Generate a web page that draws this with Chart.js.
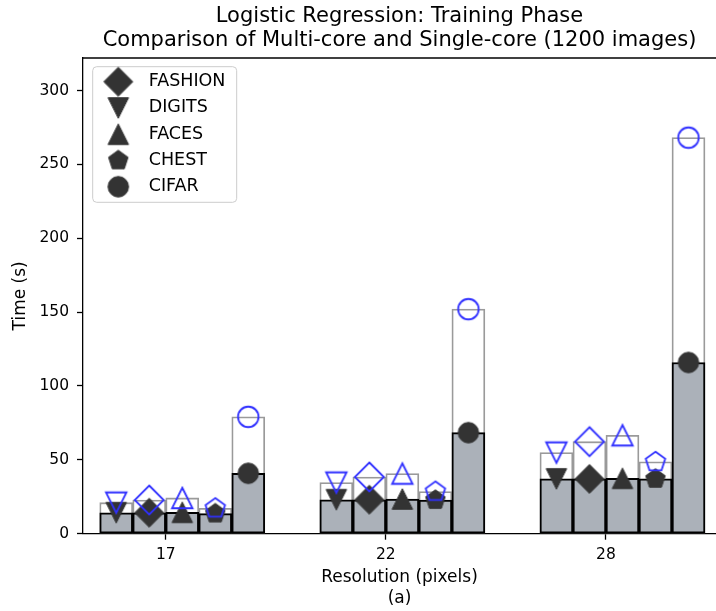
<!DOCTYPE html>
<html>
<head>
<meta charset="utf-8">
<title>Logistic Regression: Training Phase</title>
<script src="https://cdn.jsdelivr.net/npm/chart.js@4.4.1/dist/chart.umd.min.js"></script>
<style>
    html, body { margin: 0; padding: 0; background: #fff; }
    #timeChart { display: block; }
</style>
</head>
<body>
<canvas id="timeChart" width="716" height="611"></canvas>
<script>
// x groups and y ticks
const resolutions = [17, 22, 28];
const yTicks = [0, 50, 100, 150, 200, 250, 300];

// datasets, in legend order
const datasetNames = ['FASHION', 'DIGITS', 'FACES', 'CHEST', 'CIFAR'];
const markerShapes = ['diamond', 'triangleDown', 'triangleUp', 'pentagon', 'circle'];
const barSlots = [1, 0, 2, 3, 4]; // where each dataset sits inside a group

// multi-core training time (s), per resolution
const multiFashion = [14.2, 23.0, 37.1];
const multiDigits  = [14.2, 23.0, 37.1];
const multiFaces   = [14.5, 23.5, 37.5];
const multiChest   = [13.6, 22.8, 37.1];
const multiCifar   = [40.9, 68.4, 115.9];

// single-core training time (s), per resolution
const singleFashion = [22.8, 38.4, 62.3];
const singleDigits  = [21.0, 34.6, 54.9];
const singleFaces   = [24.2, 40.7, 66.6];
const singleChest   = [17.2, 28.5, 48.6];
const singleCifar   = [79.1, 152.0, 268.1];

const multiCore = [multiFashion, multiDigits, multiFaces, multiChest, multiCifar];
const singleCore = [singleFashion, singleDigits, singleFaces, singleChest, singleCifar];

const barWidth = 0.15; // one bar, in x units
const font = '"DejaVu Sans", sans-serif';

function slotX(group, slot){
    return group + (slot - 1.5) * barWidth;
}

function toPoints(values, slot){
    return values.map((v, g) => ({x: slotX(g, slot), y: v}));
}

// matplotlib-like markers drawn on small canvases
function makeMarker(shape, filled){
    const size = 34;
    const c = document.createElement('canvas');
    c.width = size;
    c.height = size;
    const ctx = c.getContext('2d');
    const h = 10.25;
    ctx.translate(size / 2, size / 2);
    ctx.beginPath();
    if(shape === 'circle'){
        ctx.arc(0, 0, h, 0, Math.PI * 2);
    }
    else if(shape === 'diamond'){
        const d = h * Math.SQRT2;
        ctx.moveTo(0, -d);
        ctx.lineTo(d, 0);
        ctx.lineTo(0, d);
        ctx.lineTo(-d, 0);
    }
    else if(shape === 'triangleUp'){
        ctx.moveTo(0, -h);
        ctx.lineTo(h, h);
        ctx.lineTo(-h, h);
    }
    else if(shape === 'triangleDown'){
        ctx.moveTo(0, h);
        ctx.lineTo(h, -h);
        ctx.lineTo(-h, -h);
    }
    else{
        for(let k = 0; k < 5; k++){
            const a = -Math.PI / 2 + k * 2 * Math.PI / 5;
            if(k === 0) ctx.moveTo(h * Math.cos(a), h * Math.sin(a));
            else ctx.lineTo(h * Math.cos(a), h * Math.sin(a));
        }
    }
    ctx.closePath();
    if(filled){
        ctx.fillStyle = '#333333';
        ctx.fill();
        ctx.strokeStyle = '#333333';
        ctx.lineWidth = 1;
        ctx.stroke();
    }
    else{
        ctx.strokeStyle = '#3030ff';
        ctx.lineWidth = 1.8;
        ctx.stroke();
    }
    return c;
}

const darkMarkers = markerShapes.map(s => makeMarker(s, true));
const blueMarkers = markerShapes.map(s => makeMarker(s, false));

const datasets = [];
datasetNames.forEach((name, i) => {
    datasets.push({
        type: 'bar',
        label: name + ' single-core',
        data: toPoints(singleCore[i], barSlots[i]),
        backgroundColor: '#ffffff',
        borderColor: '#9a9a9a',
        borderWidth: 1.8,
        borderSkipped: false,
        grouped: false,
        categoryPercentage: 1,
        barPercentage: 1,
        order: 3
    });
    datasets.push({
        type: 'bar',
        label: name + ' multi-core',
        data: toPoints(multiCore[i], barSlots[i]),
        backgroundColor: '#abb1b9',
        borderColor: '#000000',
        borderWidth: 2,
        borderSkipped: false,
        grouped: false,
        categoryPercentage: 1,
        barPercentage: 1,
        order: 2
    });
    datasets.push({
        type: 'line',
        label: name,
        data: toPoints(multiCore[i], barSlots[i]),
        showLine: false,
        pointStyle: darkMarkers[i],
        pointRadius: 10,
        order: 1
    });
    datasets.push({
        type: 'line',
        label: name + ' (single)',
        data: toPoints(singleCore[i], barSlots[i]),
        showLine: false,
        pointStyle: blueMarkers[i],
        pointRadius: 10,
        order: 0
    });
});

// legend box inside the axes, top left
const markerLegend = {
    id: 'markerLegend',
    afterDraw(chart){
        const ctx = chart.ctx;
        const area = chart.chartArea;
        const left = area.left + 9.7;
        const top = area.top + 8.7;
        const rowH = 26.25;
        ctx.save();
        ctx.beginPath();
        ctx.roundRect(left, top, 144, 135.6, 4);
        ctx.fillStyle = 'rgba(255,255,255,0.8)';
        ctx.fill();
        ctx.strokeStyle = '#cccccc';
        ctx.lineWidth = 1;
        ctx.stroke();
        ctx.font = '17.5px ' + font;
        ctx.textBaseline = 'middle';
        ctx.fillStyle = '#000000';
        datasetNames.forEach((name, i) => {
            const y = top + 15 + i * rowH;
            const m = darkMarkers[i];
            ctx.drawImage(m, left + 25.6 - m.width / 2, y - m.height / 2);
            ctx.fillText(name, left + 56, y);
        });
        ctx.restore();
    }
};

// top spine
const topSpine = {
    id: 'topSpine',
    afterDatasetsDraw(chart){
        const ctx = chart.ctx;
        const area = chart.chartArea;
        ctx.save();
        ctx.strokeStyle = '#000000';
        ctx.lineWidth = 1.3;
        ctx.beginPath();
        ctx.moveTo(area.left, area.top);
        ctx.lineTo(area.right + 2, area.top);
        ctx.stroke();
        ctx.restore();
    }
};

var timeChart = new Chart(
    document.getElementById('timeChart'),
    {
        type: 'bar',
        data: {
            datasets: datasets
        },
        options: {
            responsive: false,
            animation: false,
            devicePixelRatio: 1,
            layout: {
                padding: 0,
                autoPadding: false
            },
            plugins: {
                legend: {
                    display: false
                },
                tooltip: {
                    enabled: false
                },
                title: {
                    display: true,
                    fullSize: false,
                    text: ['Logistic Regression: Training Phase', 'Comparison of Multi-core and Single-core (1200 images)'],
                    color: '#000000',
                    font: {
                        family: font,
                        size: 21,
                        weight: 'normal',
                        lineHeight: 1.15
                    },
                    padding: {
                        top: 4.5,
                        bottom: 5.2
                    }
                }
            },
            scales: {
                x: {
                    type: 'linear',
                    offset: false,
                    min: -0.376,
                    max: 2.5,
                    afterBuildTicks: function(scale){
                        scale.ticks = resolutions.map((r, i) => ({value: i}));
                    },
                    afterFit: function(scale){
                        scale.height = 77.3;
                    },
                    ticks: {
                        callback: function(value){
                            return resolutions[value];
                        },
                        color: '#000000',
                        padding: 6,
                        maxRotation: 0,
                        font: {
                            family: font,
                            size: 15.5
                        }
                    },
                    grid: {
                        offset: false,
                        drawOnChartArea: false,
                        drawTicks: true,
                        tickLength: 6,
                        tickColor: '#000000',
                        tickWidth: 1.3
                    },
                    border: {
                        display: true,
                        color: '#000000',
                        width: 1.3
                    },
                    title: {
                        display: true,
                        text: ['Resolution (pixels)', '(a)'],
                        color: '#000000',
                        font: {
                            family: font,
                            size: 17
                        },
                        padding: {
                            top: 0,
                            bottom: 2.4
                        }
                    }
                },
                y: {
                    type: 'linear',
                    min: 0,
                    max: 322,
                    stacked: false,
                    afterBuildTicks: function(scale){
                        scale.ticks = yTicks.map(v => ({value: v}));
                    },
                    afterFit: function(scale){
                        scale.width = 83;
                    },
                    ticks: {
                        color: '#000000',
                        padding: 8,
                        font: {
                            family: font,
                            size: 15.5
                        }
                    },
                    grid: {
                        drawOnChartArea: false,
                        drawTicks: true,
                        tickLength: 6,
                        tickColor: '#000000',
                        tickWidth: 1.3
                    },
                    border: {
                        display: true,
                        color: '#000000',
                        width: 1.3
                    },
                    title: {
                        display: true,
                        text: 'Time (s)',
                        color: '#000000',
                        font: {
                            family: font,
                            size: 17
                        },
                        padding: {
                            top: 10,
                            bottom: 0
                        }
                    }
                }
            }
        },
        plugins: [markerLegend, topSpine]
    }
);
</script>
</body>
</html>
